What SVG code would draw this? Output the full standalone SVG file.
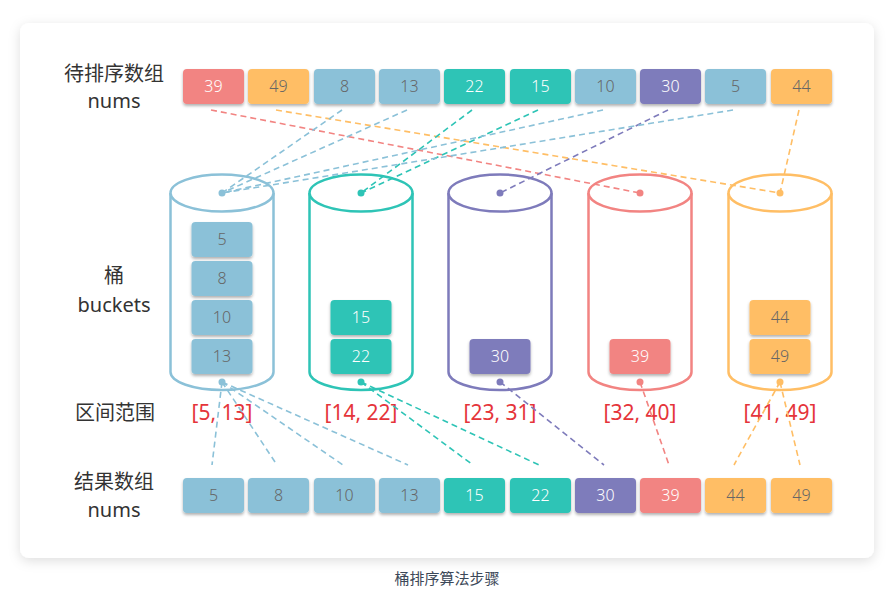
<svg xmlns="http://www.w3.org/2000/svg" width="892" height="591" viewBox="0 0 892 591">
<defs>
<filter id="cardShadow" x="-10%" y="-10%" width="120%" height="125%">
<feDropShadow dx="0" dy="3" stdDeviation="6" flood-color="#000" flood-opacity="0.13"/>
</filter>
<filter id="boxShadow" x="-20%" y="-20%" width="140%" height="160%">
<feDropShadow dx="0" dy="2" stdDeviation="1.5" flood-color="#000" flood-opacity="0.3"/>
</filter>
<style>
.lbl{font-family:"Noto Sans","Noto Sans CJK SC",sans-serif;font-size:20px;fill:#333;text-anchor:middle;font-weight:400}
.num{font-family:"Noto Sans","Liberation Sans",sans-serif;font-size:16px;text-anchor:middle;font-weight:300}
.rng{font-family:"Noto Sans","Liberation Sans",sans-serif;font-size:21px;fill:#E5343A;text-anchor:middle;font-weight:400}
.cap{font-family:"Noto Sans CJK SC",sans-serif;font-size:15px;fill:#3c4858;text-anchor:middle}
.box{filter:url(#boxShadow)}
.b rect{fill:#8BC1D8}.b text{fill:#666}
.t rect{fill:#2EC4B6}.t text{fill:#fff}
.p rect{fill:#7E7BBB}.p text{fill:#fff}
.r rect{fill:#F28482}.r text{fill:#fff}
.o rect{fill:#FFBE65}.o text{fill:#666}
.cyl{fill:#fff;stroke-width:2.5}
.cb{stroke:#8BC1D8}.ct{stroke:#2EC4B6}.cp{stroke:#7E7BBB}.cr{stroke:#F28482}.co{stroke:#FFBE65}
.ln{fill:none;stroke-width:1.6;stroke-dasharray:6 4}
.lb{stroke:#8BC1D8}.lt{stroke:#2EC4B6}.lp{stroke:#7E7BBB}.lr{stroke:#F28482}.lo{stroke:#FFBE65}
</style>
</defs>
<rect x="0" y="0" width="892" height="591" fill="#fff"/>
<rect id="card" x="20" y="23" width="854" height="535" rx="9" fill="#fff" filter="url(#cardShadow)"/>

<g id="labels">
<text class="lbl" x="114" y="81">待排序数组</text>
<text class="lbl" x="114" y="108">nums</text>
<text class="lbl" x="114" y="283">桶</text>
<text class="lbl" x="114" y="312">buckets</text>
<text class="lbl" x="115" y="420">区间范围</text>
<text class="lbl" x="114" y="489">结果数组</text>
<text class="lbl" x="114" y="517">nums</text>
</g>

<g id="input-array">
<g id="in-0" class="r"><rect class="box" x="183" y="69" width="61" height="35" rx="4"/><text class="num" x="213.5" y="92">39</text></g>
<g id="in-1" class="o"><rect class="box" x="248" y="69" width="61" height="35" rx="4"/><text class="num" x="278.5" y="92">49</text></g>
<g id="in-2" class="b"><rect class="box" x="314" y="69" width="61" height="35" rx="4"/><text class="num" x="344.5" y="92">8</text></g>
<g id="in-3" class="b"><rect class="box" x="379" y="69" width="61" height="35" rx="4"/><text class="num" x="409.5" y="92">13</text></g>
<g id="in-4" class="t"><rect class="box" x="444" y="69" width="61" height="35" rx="4"/><text class="num" x="474.5" y="92">22</text></g>
<g id="in-5" class="t"><rect class="box" x="510" y="69" width="61" height="35" rx="4"/><text class="num" x="540.5" y="92">15</text></g>
<g id="in-6" class="b"><rect class="box" x="575" y="69" width="61" height="35" rx="4"/><text class="num" x="605.5" y="92">10</text></g>
<g id="in-7" class="p"><rect class="box" x="640" y="69" width="61" height="35" rx="4"/><text class="num" x="670.5" y="92">30</text></g>
<g id="in-8" class="b"><rect class="box" x="705" y="69" width="61" height="35" rx="4"/><text class="num" x="735.5" y="92">5</text></g>
<g id="in-9" class="o"><rect class="box" x="771" y="69" width="61" height="35" rx="4"/><text class="num" x="801.5" y="92">44</text></g>
</g>

<g id="bucket-1">
<path class="cyl cb" d="M170.5 193 V372 A51.5 18 0 0 0 273.5 372 V193"/>
<ellipse class="cyl cb" cx="222" cy="193" rx="51.5" ry="18.5"/>
<g class="b"><rect class="box" x="191.5" y="222" width="61" height="35" rx="4"/><text class="num" x="222" y="245">5</text></g>
<g class="b"><rect class="box" x="191.5" y="261" width="61" height="35" rx="4"/><text class="num" x="222" y="284">8</text></g>
<g class="b"><rect class="box" x="191.5" y="300" width="61" height="35" rx="4"/><text class="num" x="222" y="323">10</text></g>
<g class="b"><rect class="box" x="191.5" y="339" width="61" height="35" rx="4"/><text class="num" x="222" y="362">13</text></g>
<text class="rng" x="222" y="420">[5, 13]</text>
</g>
<g id="bucket-2">
<path class="cyl ct" d="M309.5 193 V372 A51.5 18 0 0 0 412.5 372 V193"/>
<ellipse class="cyl ct" cx="361" cy="193" rx="51.5" ry="18.5"/>
<g class="t"><rect class="box" x="330.5" y="300" width="61" height="35" rx="4"/><text class="num" x="361" y="323">15</text></g>
<g class="t"><rect class="box" x="330.5" y="339" width="61" height="35" rx="4"/><text class="num" x="361" y="362">22</text></g>
<text class="rng" x="361" y="420">[14, 22]</text>
</g>
<g id="bucket-3">
<path class="cyl cp" d="M448.5 193 V372 A51.5 18 0 0 0 551.5 372 V193"/>
<ellipse class="cyl cp" cx="500" cy="193" rx="51.5" ry="18.5"/>
<g class="p"><rect class="box" x="469.5" y="339" width="61" height="35" rx="4"/><text class="num" x="500" y="362">30</text></g>
<text class="rng" x="500" y="420">[23, 31]</text>
</g>
<g id="bucket-4">
<path class="cyl cr" d="M588.5 193 V372 A51.5 18 0 0 0 691.5 372 V193"/>
<ellipse class="cyl cr" cx="640" cy="193" rx="51.5" ry="18.5"/>
<g class="r"><rect class="box" x="609.5" y="339" width="61" height="35" rx="4"/><text class="num" x="640" y="362">39</text></g>
<text class="rng" x="640" y="420">[32, 40]</text>
</g>
<g id="bucket-5">
<path class="cyl co" d="M728.5 193 V372 A51.5 18 0 0 0 831.5 372 V193"/>
<ellipse class="cyl co" cx="780" cy="193" rx="51.5" ry="18.5"/>
<g class="o"><rect class="box" x="749.5" y="300" width="61" height="35" rx="4"/><text class="num" x="780" y="323">44</text></g>
<g class="o"><rect class="box" x="749.5" y="339" width="61" height="35" rx="4"/><text class="num" x="780" y="362">49</text></g>
<text class="rng" x="780" y="420">[41, 49]</text>
</g>

<g id="output-array">
<g id="out-0" class="b"><rect class="box" x="183" y="478" width="61" height="35" rx="4"/><text class="num" x="213.5" y="501">5</text></g>
<g id="out-1" class="b"><rect class="box" x="248" y="478" width="61" height="35" rx="4"/><text class="num" x="278.5" y="501">8</text></g>
<g id="out-2" class="b"><rect class="box" x="314" y="478" width="61" height="35" rx="4"/><text class="num" x="344.5" y="501">10</text></g>
<g id="out-3" class="b"><rect class="box" x="379" y="478" width="61" height="35" rx="4"/><text class="num" x="409.5" y="501">13</text></g>
<g id="out-4" class="t"><rect class="box" x="444" y="478" width="61" height="35" rx="4"/><text class="num" x="474.5" y="501">15</text></g>
<g id="out-5" class="t"><rect class="box" x="510" y="478" width="61" height="35" rx="4"/><text class="num" x="540.5" y="501">22</text></g>
<g id="out-6" class="p"><rect class="box" x="575" y="478" width="61" height="35" rx="4"/><text class="num" x="605.5" y="501">30</text></g>
<g id="out-7" class="r"><rect class="box" x="640" y="478" width="61" height="35" rx="4"/><text class="num" x="670.5" y="501">39</text></g>
<g id="out-8" class="o"><rect class="box" x="705" y="478" width="61" height="35" rx="4"/><text class="num" x="735.5" y="501">44</text></g>
<g id="out-9" class="o"><rect class="box" x="771" y="478" width="61" height="35" rx="4"/><text class="num" x="801.5" y="501">49</text></g>
</g>

<g id="connectors">
<line class="ln lr" x1="211" y1="110" x2="640" y2="193"/>
<line class="ln lo" x1="276" y1="110" x2="780" y2="193"/>
<line class="ln lb" x1="342" y1="110" x2="222" y2="193"/>
<line class="ln lb" x1="407" y1="110" x2="222" y2="193"/>
<line class="ln lt" x1="472" y1="110" x2="361" y2="193"/>
<line class="ln lt" x1="538" y1="110" x2="361" y2="193"/>
<line class="ln lb" x1="603" y1="110" x2="222" y2="193"/>
<line class="ln lp" x1="668" y1="110" x2="500" y2="193"/>
<line class="ln lb" x1="733" y1="110" x2="222" y2="193"/>
<line class="ln lo" x1="799" y1="110" x2="780" y2="193"/>
<line class="ln lb" x1="222" y1="382" x2="212" y2="465"/>
<line class="ln lb" x1="222" y1="382" x2="277" y2="465"/>
<line class="ln lb" x1="222" y1="382" x2="343" y2="465"/>
<line class="ln lb" x1="222" y1="382" x2="408" y2="465"/>
<line class="ln lt" x1="361" y1="382" x2="473" y2="465"/>
<line class="ln lt" x1="361" y1="382" x2="539" y2="465"/>
<line class="ln lp" x1="500" y1="382" x2="604" y2="465"/>
<line class="ln lr" x1="640" y1="382" x2="669" y2="465"/>
<line class="ln lo" x1="780" y1="382" x2="734" y2="465"/>
<line class="ln lo" x1="780" y1="382" x2="800" y2="465"/>
<g id="dots">
<circle cx="222" cy="193" r="3.5" fill="#8BC1D8"/><circle cx="222" cy="382" r="3.5" fill="#8BC1D8"/>
<circle cx="361" cy="193" r="3.5" fill="#2EC4B6"/><circle cx="361" cy="382" r="3.5" fill="#2EC4B6"/>
<circle cx="500" cy="193" r="3.5" fill="#7E7BBB"/><circle cx="500" cy="382" r="3.5" fill="#7E7BBB"/>
<circle cx="640" cy="193" r="3.5" fill="#F28482"/><circle cx="640" cy="382" r="3.5" fill="#F28482"/>
<circle cx="780" cy="193" r="3.5" fill="#FFBE65"/><circle cx="780" cy="382" r="3.5" fill="#FFBE65"/>
</g>
</g>

<text id="caption" class="cap" x="447" y="584">桶排序算法步骤</text>
</svg>
